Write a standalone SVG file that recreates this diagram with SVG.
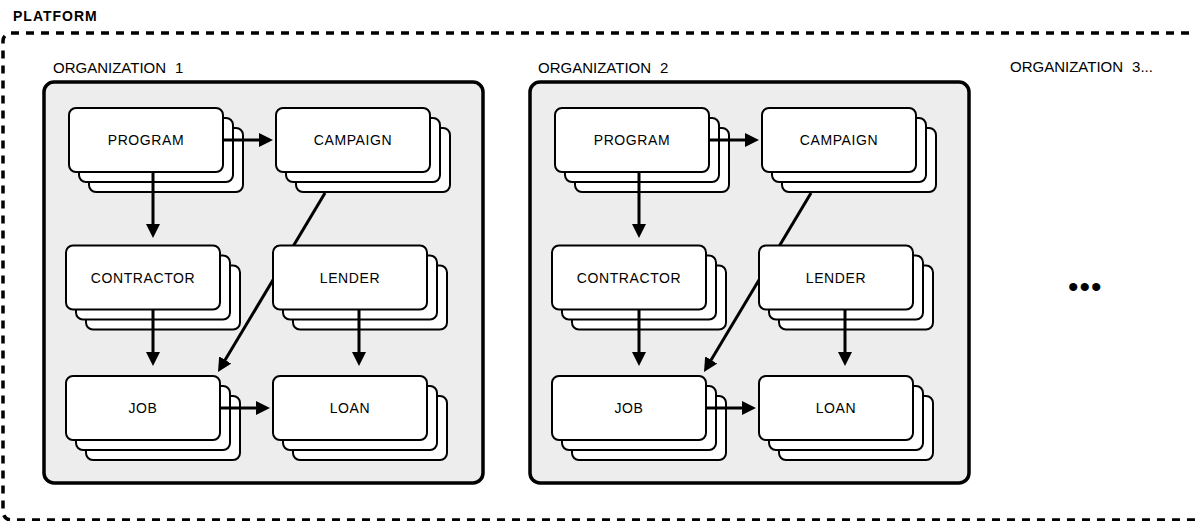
<svg xmlns="http://www.w3.org/2000/svg" xmlns:xlink="http://www.w3.org/1999/xlink" width="1195" height="521" viewBox="0 0 1195 521">
  <style>
    .frame { fill: none; stroke: #000; stroke-width: 3.5; stroke-dasharray: 8 7; }
    .org { fill: #ededed; stroke: #000; stroke-width: 3.5; }
    .card { fill: #fff; stroke: #000; stroke-width: 2; }
    .edge { fill: none; stroke: #000; stroke-width: 3; marker-end: url(#arrow); }
    .title { font-family: "Liberation Sans", Arial, sans-serif; font-size: 14px; font-weight: bold; letter-spacing: 1px; fill: #000; }
    .orglabel { font-family: "Liberation Sans", Arial, sans-serif; font-size: 15px; fill: #000; }
    .label { font-family: "Liberation Sans", Arial, sans-serif; font-size: 14px; letter-spacing: 0.6px; fill: #000; text-anchor: middle; }
    .more { font-family: "Liberation Sans", Arial, sans-serif; font-size: 30px; letter-spacing: 1px; fill: #000; }
  </style>
  <defs>
    <marker id="arrow" markerUnits="userSpaceOnUse" markerWidth="15" markerHeight="15" refX="6" refY="7" orient="auto">
      <path d="M0,0 L14,7 L0,14 z" fill="#000"/>
    </marker>
    <!-- three stacked cards, back to front -->
    <g id="stack">
      <rect class="card" x="20" y="20" width="154" height="64" rx="7"/>
      <rect class="card" x="10" y="10" width="154" height="64" rx="7"/>
      <rect class="card" x="0" y="0" width="154" height="64" rx="7"/>
    </g>
  </defs>

  <rect width="1195" height="521" fill="#fff"/>

  <!-- platform boundary -->
  <g id="platform">
    <rect class="frame" x="3" y="33" width="1230" height="487" rx="8"/>
    <text class="title" x="13" y="21">PLATFORM</text>
  </g>

  <!-- organization containers -->
  <g id="org1">
    <rect class="org" x="44" y="82" width="439" height="401" rx="10"/>
    <text class="orglabel" x="53" y="73">ORGANIZATION<tspan dx="9">1</tspan></text>
  </g>
  <g id="org2">
    <rect class="org" x="530" y="82" width="439" height="401" rx="10"/>
    <text class="orglabel" x="538" y="73">ORGANIZATION<tspan dx="9">2</tspan></text>
  </g>
  <g id="org3">
    <text class="orglabel" x="1010" y="72">ORGANIZATION<tspan dx="9">3...</tspan></text>
    <text class="more" x="1068" y="297">•••</text>
  </g>

  <!-- campaign to job links pass behind the lender cards -->
  <g id="connectors-behind">
    <path class="edge" d="M325,193 L222.1,365.1"/>
    <path class="edge" transform="translate(486 0)" d="M325,193 L222.1,365.1"/>
  </g>

  <!-- organization 1 nodes -->
  <g id="org1-program"><use xlink:href="#stack" x="69" y="108"/><text class="label" x="146" y="145">PROGRAM</text></g>
  <g id="org1-campaign"><use xlink:href="#stack" x="276" y="108"/><text class="label" x="353" y="145">CAMPAIGN</text></g>
  <g id="org1-contractor"><use xlink:href="#stack" x="66" y="245.5"/><text class="label" x="143" y="282.5">CONTRACTOR</text></g>
  <g id="org1-lender"><use xlink:href="#stack" x="273" y="245.5"/><text class="label" x="350" y="282.5">LENDER</text></g>
  <g id="org1-job"><use xlink:href="#stack" x="66" y="376"/><text class="label" x="143" y="413">JOB</text></g>
  <g id="org1-loan"><use xlink:href="#stack" x="273" y="376"/><text class="label" x="350" y="413">LOAN</text></g>

  <!-- organization 2 nodes -->
  <g id="org2-program"><use xlink:href="#stack" x="555" y="108"/><text class="label" x="632" y="145">PROGRAM</text></g>
  <g id="org2-campaign"><use xlink:href="#stack" x="762" y="108"/><text class="label" x="839" y="145">CAMPAIGN</text></g>
  <g id="org2-contractor"><use xlink:href="#stack" x="552" y="245.5"/><text class="label" x="629" y="282.5">CONTRACTOR</text></g>
  <g id="org2-lender"><use xlink:href="#stack" x="759" y="245.5"/><text class="label" x="836" y="282.5">LENDER</text></g>
  <g id="org2-job"><use xlink:href="#stack" x="552" y="376"/><text class="label" x="629" y="413">JOB</text></g>
  <g id="org2-loan"><use xlink:href="#stack" x="759" y="376"/><text class="label" x="836" y="413">LOAN</text></g>

  <!-- remaining connectors, drawn over the card stacks -->
  <g id="connectors">
    <g id="org1-edges">
      <path class="edge" d="M223,140 H265"/>
      <path class="edge" d="M153,172 V230"/>
      <path class="edge" d="M153,310 V358"/>
      <path class="edge" d="M359,310 V358"/>
      <path class="edge" d="M219,408 H262"/>
    </g>
    <g id="org2-edges" transform="translate(486 0)">
      <path class="edge" d="M223,140 H265"/>
      <path class="edge" d="M153,172 V230"/>
      <path class="edge" d="M153,310 V358"/>
      <path class="edge" d="M359,310 V358"/>
      <path class="edge" d="M219,408 H262"/>
    </g>
  </g>
</svg>
